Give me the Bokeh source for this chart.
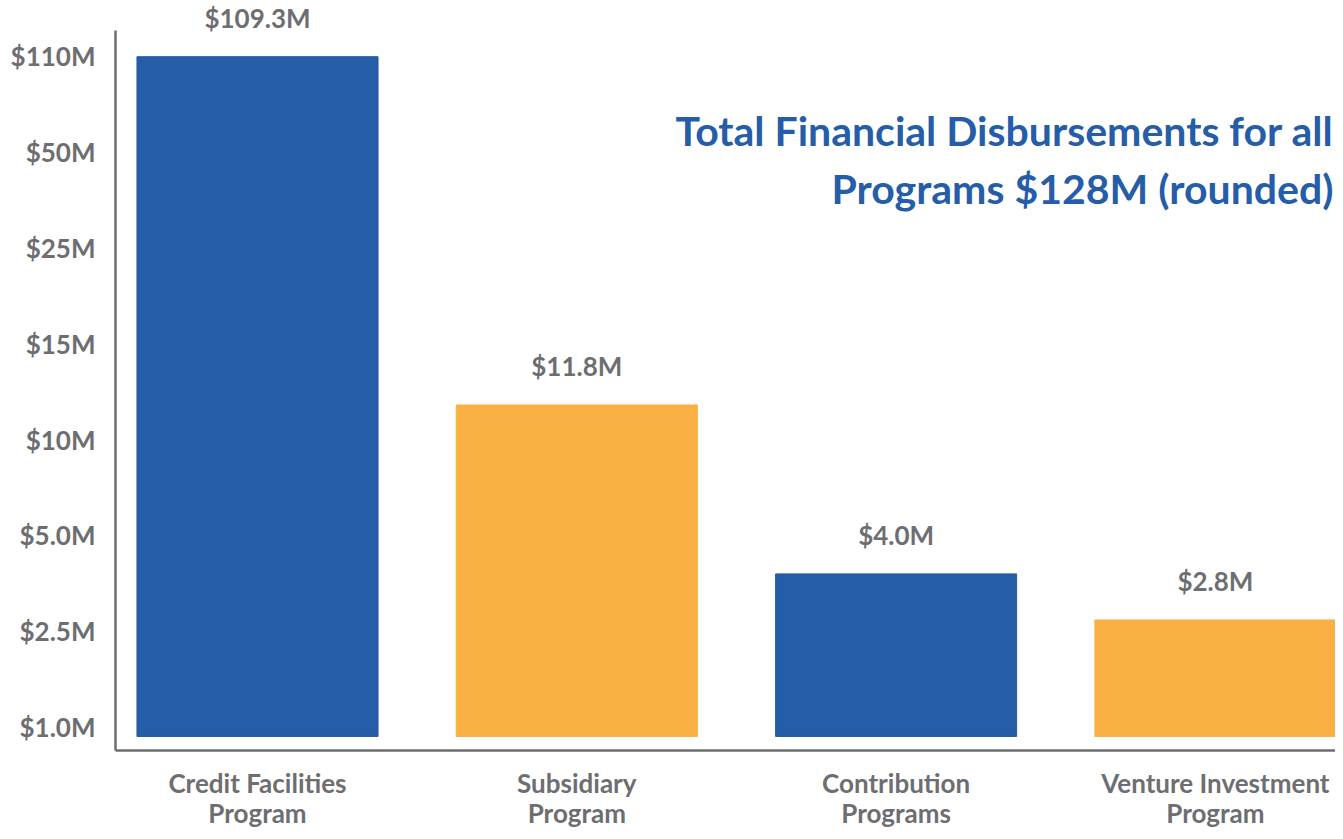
import numpy as np
from bokeh.plotting import figure
from bokeh.models import ColumnDataSource, FixedTicker, Range1d, Label
from bokeh.embed import file_html
from bokeh.resources import INLINE

# ---- data ----
programs = ["Credit Facilities\nProgram", "Subsidiary\nProgram",
            "Contribution\nPrograms", "Venture Investment\nProgram"]
amounts = [109.3, 11.8, 4.0, 2.8]          # $M
amount_labels = ["$109.3M", "$11.8M", "$4.0M", "$2.8M"]
tick_values = [1.0, 2.5, 5.0, 10, 15, 25, 50, 110]   # $M, evenly spaced on axis
tick_labels = ["$1.0M", "$2.5M", "$5.0M", "$10M", "$15M", "$25M", "$50M", "$110M"]
colors = ["#255DA8", "#FAB042", "#255DA8", "#FAB042"]
title_lines = ["Total Financial Disbursements for all", "Programs $128M (rounded)"]

BLUE = "#255DA8"
GRAY = "#6D6E71"
FONT = "Lato"


def axis_scale(v):
    """Piecewise-linear scale: each tick value is one unit apart."""
    return np.interp(v, tick_values, np.arange(len(tick_values)))


x = list(range(len(programs)))
tops = axis_scale(amounts)
base = -0.094

src = ColumnDataSource(dict(x=x, top=tops, bottom=[base] * len(x), color=colors))

p = figure(width=1335, height=831, output_backend="svg", toolbar_location=None,
           x_range=Range1d(-0.4447, 3.376), y_range=Range1d(-0.24, 7.553),
           min_border_left=115, min_border_right=0, min_border_top=2,
           min_border_bottom=81)

p.vbar(x="x", top="top", bottom="bottom", width=0.755, color="color", source=src)

# value labels above bars
for xi, ti, lab in zip(x, tops, amount_labels):
    p.add_layout(Label(x=xi, y=ti, text=lab, text_align="center",
                       text_baseline="middle", y_offset=39, text_color=GRAY,
                       text_font=FONT, text_font_style="bold", text_font_size="26px"))

# title annotation (screen units relative to the plot frame)
p.add_layout(Label(x=1218, y=620, x_units="screen", y_units="screen",
                   text=title_lines[0], text_align="right", text_baseline="middle",
                   text_color=BLUE, text_font=FONT, text_font_style="bold",
                   text_font_size="41px"))
p.add_layout(Label(x=1218, y=562, x_units="screen", y_units="screen",
                   text=title_lines[1], text_align="right", text_baseline="middle",
                   text_color=BLUE, text_font=FONT, text_font_style="bold",
                   text_font_size="41px"))

# axes
p.yaxis.ticker = FixedTicker(ticks=list(range(len(tick_values))))
p.yaxis.major_label_overrides = {i: t for i, t in enumerate(tick_labels)}
p.yaxis.bounds = (-0.24, 7.26)
p.xaxis.ticker = FixedTicker(ticks=x)
p.xaxis.major_label_overrides = {i: t for i, t in enumerate(programs)}

for ax in (p.xaxis, p.yaxis):
    ax.axis_line_color = GRAY
    ax.axis_line_width = 2.5
    ax.major_tick_line_color = None
    ax.minor_tick_line_color = None
    ax.major_label_text_color = GRAY
    ax.major_label_text_font = FONT
    ax.major_label_text_font_style = "bold"
    ax.major_label_text_font_size = "26px"
p.yaxis.major_label_standoff = 14
p.xaxis.major_label_standoff = 10
p.xaxis.major_label_text_line_height = 0.95

p.xgrid.grid_line_color = None
p.ygrid.grid_line_color = None
p.outline_line_color = None

open("out.html", "w").write(file_html(p, INLINE))
